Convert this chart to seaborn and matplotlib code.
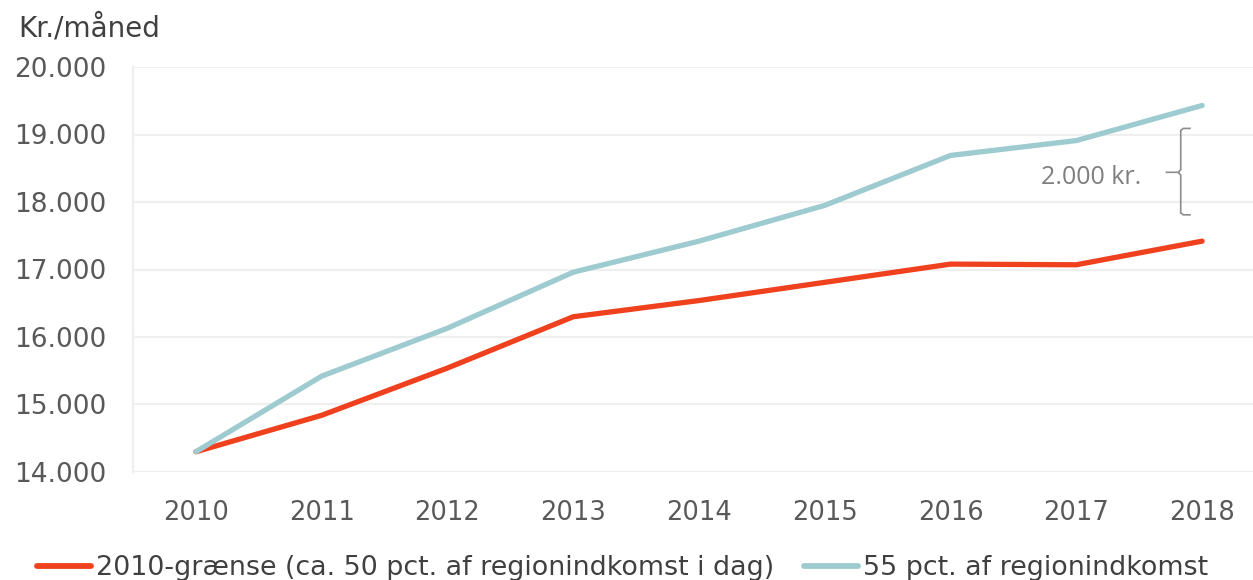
import matplotlib
matplotlib.use("Agg")
import matplotlib.pyplot as plt
import seaborn as sns
import pandas as pd
from matplotlib.path import Path
from matplotlib.patches import PathPatch

years = [2010, 2011, 2012, 2013, 2014, 2015, 2016, 2017, 2018]
series_names = ["2010-grænse (ca. 50 pct. af regionindkomst i dag)",
                "55 pct. af regionindkomst"]
graense_2010 = [14300, 14840, 15540, 16300, 16540, 16810, 17080, 17070, 17420]
pct55 = [14300, 15420, 16130, 16960, 17420, 17950, 18690, 18910, 19430]
yticks = [14000, 15000, 16000, 17000, 18000, 19000, 20000]
ytick_labels = ["14.000", "15.000", "16.000", "17.000", "18.000", "19.000", "20.000"]
colors = ["#F0411F", "#9ECBD0"]
ylabel = "Kr./måned"
annotation = "2.000 kr."

df = pd.DataFrame({
    "year": [str(y) for y in years] * 2,
    "x": list(range(len(years))) * 2,
    "value": graense_2010 + pct55,
    "series": [series_names[0]] * len(years) + [series_names[1]] * len(years),
})

sns.set_theme(style="white")
plt.rcParams["font.family"] = ["DejaVu Sans"]

fig = plt.figure(figsize=(12.53, 5.8), dpi=100)
ax = fig.add_axes([133 / 1253, 1 - 472 / 580, 1132 / 1253, 405 / 580])

sns.lineplot(data=df, x="x", y="value", hue="series", hue_order=series_names,
             palette=colors, linewidth=3.8, ax=ax, legend=False,
             sort=False)
for ln in ax.get_lines():
    ln.set_solid_capstyle("round")
    ln.set_solid_joinstyle("round")

ax.set_xlim(-0.5, len(years) - 0.5)
ax.set_ylim(yticks[0], yticks[-1])
ax.set_yticks(yticks)
ax.set_yticklabels(ytick_labels)
ax.set_xticks(range(len(years)))
ax.set_xticklabels([str(y) for y in years])
ax.set_xlabel("")
ax.set_ylabel("")
ax.grid(axis="y", color="#EFEFEF", linewidth=1.6)
ax.set_axisbelow(True)
for s in ["top", "right", "bottom"]:
    ax.spines[s].set_visible(False)
ax.spines["left"].set_color("#EFEFEF")
ax.spines["left"].set_linewidth(1.6)
ax.tick_params(axis="y", length=0, pad=19, labelsize=19, labelcolor="#595959")
ax.tick_params(axis="x", length=0, pad=20, labelsize=18.5, labelcolor="#595959")

fig.text(18 / 1253, 1 - 28 / 580, ylabel, fontsize=20, color="#404040",
         ha="left", va="center")

# brace annotation
bx = 7.83
verts = [(7.91, 19090), (7.85, 19090), (bx, 19060), (bx, 18480),
         (7.81, 18440), (7.71, 18440), (7.81, 18440), (bx, 18400),
         (bx, 17840), (7.85, 17810), (7.91, 17810)]
codes = [Path.MOVETO, Path.LINETO, Path.LINETO, Path.LINETO, Path.LINETO,
         Path.LINETO, Path.MOVETO, Path.LINETO, Path.LINETO, Path.LINETO, Path.LINETO]
ax.add_patch(PathPatch(Path(verts, codes), fill=False, edgecolor="#8C8C8C",
                       linewidth=1.2))
ax.text(7.12, 18360, annotation, fontsize=18, color="#7F7F7F",
        ha="center", va="center", family=["Open Sans", "DejaVu Sans"])

handles = [plt.Line2D([], [], color=c, linewidth=4.2, solid_capstyle="round")
           for c in colors]
fig.legend(handles, series_names, loc="center", bbox_to_anchor=(0.497, 1 - 568 / 580),
           ncol=2, frameon=False, fontsize=19.4, handlelength=2.0,
           handletextpad=0.2, columnspacing=1.1, labelcolor="#404040",
           borderaxespad=0, borderpad=0)

fig.savefig("out.png", dpi=100)
